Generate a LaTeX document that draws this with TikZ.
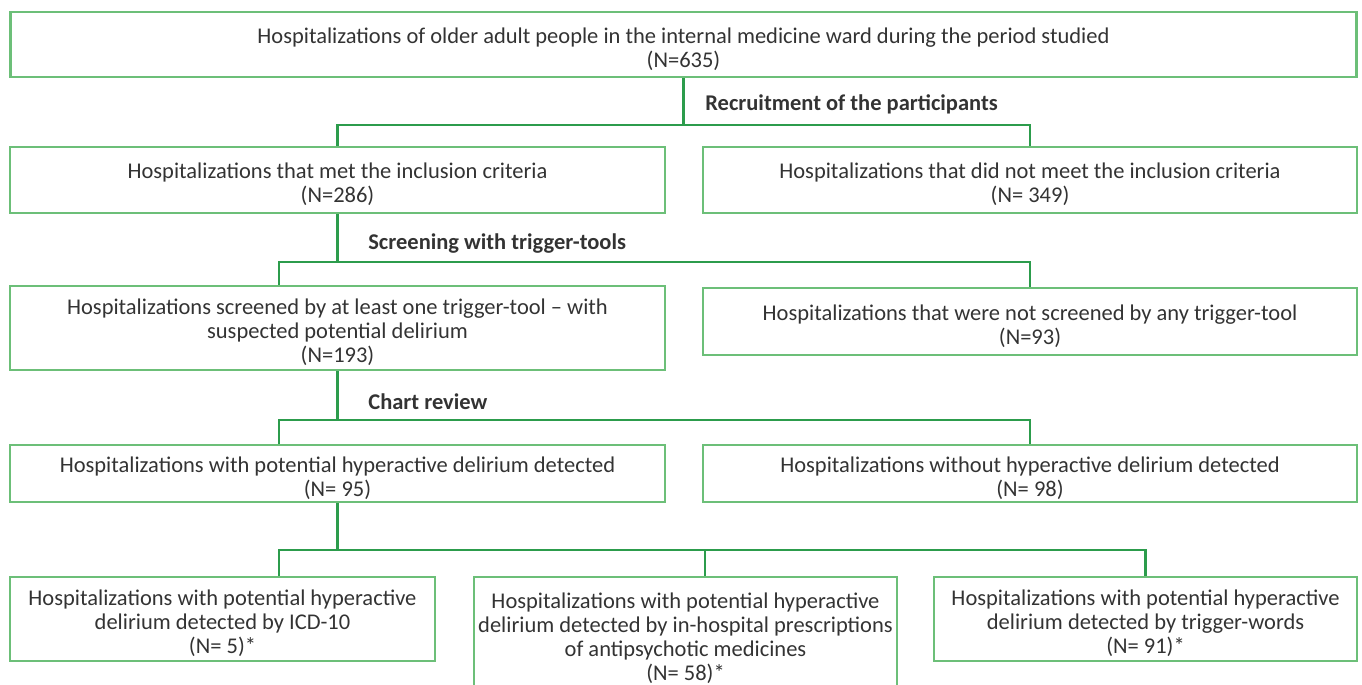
\documentclass[tikz,border=0pt]{standalone}
\usepackage{fontspec}
\setmainfont{Carlito}
\usepackage{tikz}
\usetikzlibrary{positioning}

\definecolor{boxgreen}{HTML}{6CBF78}
\definecolor{linkgreen}{HTML}{2C9C4C}
\definecolor{txt}{HTML}{333333}
% extra room above the first line of a box
\newcommand{\toprow}{\rule{0pt}{14pt}}

\begin{document}
\begin{tikzpicture}[x=0.02cm,y=-0.02cm,
        box/.style={draw=boxgreen,line width=1.6pt,align=center,inner sep=0pt,text=txt,
                font=\fontsize{12.8}{13.6}\selectfont},
        link/.style={draw=linkgreen,line width=1.4pt},
        phase/.style={anchor=west,inner sep=0pt,text=txt,font=\fontsize{12.8}{13.6}\selectfont\bfseries}]
        \useasboundingbox (0,0) rectangle (1362,684);

        \node[box,minimum width=26.94cm,minimum height=1.30cm] (all) at (683.5,44.5)
                {\toprow Hospitalizations of older adult people in the internal medicine ward during the period studied\\(N=635)};
        \node[box,minimum width=13.10cm,minimum height=1.32cm] (incl) at (337.5,180)
                {\toprow Hospitalizations that met the inclusion criteria\\(N=286)};
        \node[box,minimum width=13.08cm,minimum height=1.32cm] (excl) at (1030,180)
                {\toprow Hospitalizations that did not meet the inclusion criteria\\(N= 349)};
        \node[box,minimum width=13.10cm,minimum height=1.68cm] (scr) at (337.5,328)
                {\toprow Hospitalizations screened by at least one trigger-tool -- with\\suspected potential delirium\\(N=193)};
        \node[box,minimum width=13.08cm,minimum height=1.34cm] (noscr) at (1030,321.5)
                {\toprow Hospitalizations that were not screened by any trigger-tool\\(N=93)};
        \node[box,minimum width=13.10cm,minimum height=1.14cm] (hyp) at (337.5,473.5)
                {\toprow Hospitalizations with potential hyperactive delirium detected\\(N= 95)};
        \node[box,minimum width=13.08cm,minimum height=1.14cm] (nohyp) at (1030,473.5)
                {\toprow Hospitalizations without hyperactive delirium detected\\(N= 98)};
        \node[box,minimum width=8.50cm,minimum height=1.68cm] (icd) at (222.5,619)
                {\toprow Hospitalizations with potential hyperactive\\delirium detected by ICD-10\\(N= 5)*};
        \node[box,minimum width=8.46cm,minimum height=2.26cm] (presc) at (685.5,633.5)
                {\toprow Hospitalizations with potential hyperactive\\delirium detected by in-hospital prescriptions\\of antipsychotic medicines\\(N= 58)*};
        \node[box,minimum width=8.46cm,minimum height=1.68cm] (words) at (1145.5,619)
                {\toprow Hospitalizations with potential hyperactive\\delirium detected by trigger-words\\(N= 91)*};

        % phase labels
        \node[phase] (recr) at (705,104) {Recruitment of the participants};
        \node[phase] (trig) at (368,244) {Screening with trigger-tools};
        \node[phase] (chart) at (368,402) {Chart review};

        % junctions
        \coordinate (j1) at (685,125);
        \coordinate (j2) at (279,262);
        \coordinate (j3) at (279,420);
        \coordinate (j4) at (279,550);
        \coordinate (j4m) at (705,550);

        \draw[link] (all.south) -- (all.south |- j1);
        \draw[link] (incl.north) |- (j1) -| (excl.north);

        \draw[link] (incl.south) -- (incl.south |- j2);
        \draw[link] (j2 |- scr.north) -- (j2) -| (noscr.north);

        \draw[link] (scr.south) -- (scr.south |- j3);
        \draw[link] (j3 |- hyp.north) -- (j3) -| (nohyp.north);

        \draw[link] (hyp.south) -- (hyp.south |- j4);
        \draw[link] (j4 |- icd.north) -- (j4) -| (words.north);
        \draw[link] (j4m) -- (j4m |- presc.north);
\end{tikzpicture}
\end{document}
